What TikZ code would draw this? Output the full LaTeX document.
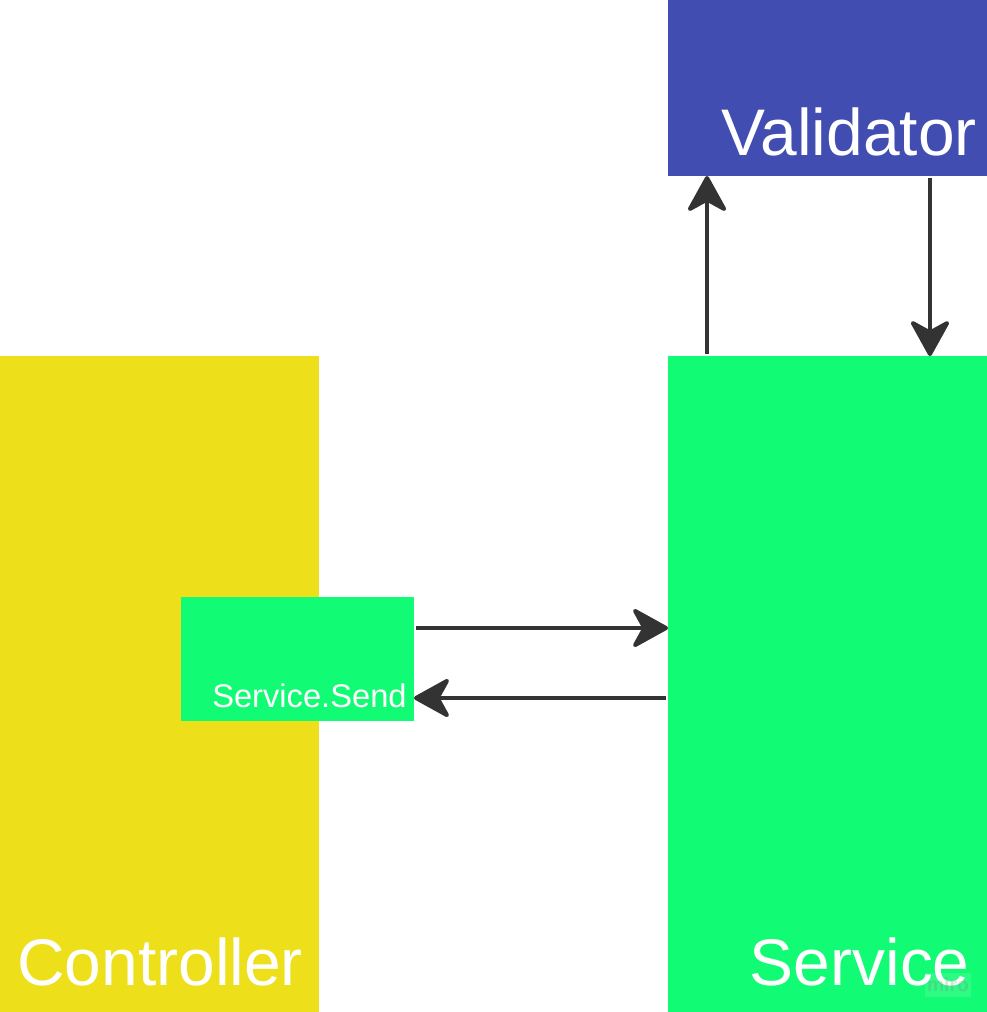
\documentclass[tikz,border=0pt]{standalone}
\usepackage{fontspec}
\setmainfont{Liberation Sans}
\usetikzlibrary{arrows.meta, calc, positioning}

\definecolor{valblue}{RGB}{66,77,178}
\definecolor{ctrlyellow}{RGB}{237,224,27}
\definecolor{srvgreen}{RGB}{18,251,116}
\definecolor{flowgray}{RGB}{51,51,51}

\tikzset{
  block/.style={draw=none, inner sep=0pt, outer sep=0pt},
  bigtext/.style={text=white, inner sep=0pt, font=\fontsize{37.5}{44}\selectfont},
  smalltext/.style={text=white, inner sep=0pt, font=\fontsize{18.6}{22}\selectfont},
  flow/.style={flowgray, line width=0.08cm,
    -{Stealth[round, length=0.8cm, width=0.88cm, inset=0.24cm]}}
}

\begin{document}
\begin{tikzpicture}[x=0.02cm, y=-0.02cm]
\useasboundingbox (0,0) rectangle (987,1012);

% Boxes
\node[block, fill=valblue, minimum width=6.38cm, minimum height=3.52cm] (validator) at (827.5,88) {};
\node[block, fill=ctrlyellow, minimum width=6.38cm, minimum height=13.12cm] (controller) at (159.5,684) {};
\node[block, fill=srvgreen, minimum width=6.38cm, minimum height=13.12cm] (service) at (827.5,684) {};
\node[block, fill=srvgreen, minimum width=4.66cm, minimum height=2.48cm] (send) at (297.5,659) {};

% Labels
\node[bigtext, anchor=base east] (validatorlbl) at (977,155) {Validator};
\node[bigtext, anchor=base west] (controllerlbl) at (17,985) {Controller};
\node[bigtext, anchor=base east] (servicelbl) at (970,985) {Service};
\node[smalltext, anchor=base east] (sendlbl) at (407,707) {Service.Send};

% watermark
\node[fill=white, fill opacity=0.12, text opacity=0.25, text=gray, inner sep=1pt,
  minimum width=0.92cm, minimum height=0.48cm, font=\fontsize{11}{12}\selectfont\bfseries] (miro) at (948,985) {miro};

% Arrows
\coordinate (callout) at ($(send.east)+(0.04cm,0.62cm)$);
\coordinate (callback) at ($(send.east)+(0,-0.78cm)$);
\coordinate (valup) at ($(service.north west)+(0.78cm,0.04cm)$);
\coordinate (valdown) at ($(validator.south west)+(5.24cm,-0.04cm)$);

\draw[flow] (callout) -- (callout -| service.west);
\draw[flow] ($(callback -| service.west)+(-0.04cm,0)$) -- (callback);
\draw[flow] (valup) -- (valup |- validator.south);
\draw[flow] (valdown) -- (valdown |- service.north);
\end{tikzpicture}
\end{document}
